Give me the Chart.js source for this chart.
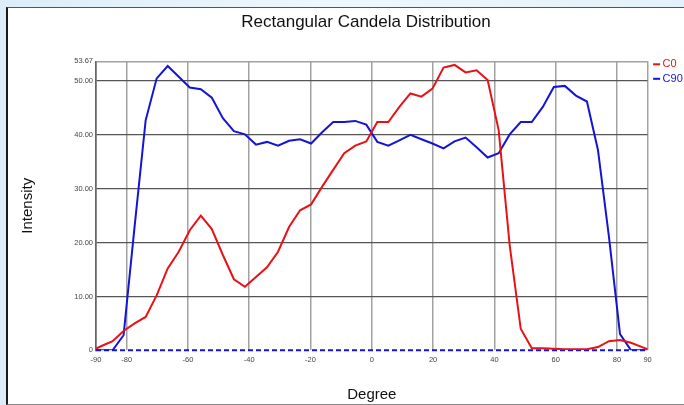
<!DOCTYPE html>
<html>
<head>
<meta charset="utf-8">
<script src="https://cdn.jsdelivr.net/npm/chart.js@4.4.1/dist/chart.umd.min.js"></script>
<style>
  html, body { margin: 0; padding: 0; }
  body {
    width: 684px; height: 405px; overflow: hidden; position: relative;
    background: linear-gradient(90deg, #dcedf9 0%, #eef7fd 50%, #e3f1fa 100%);
  }
  #panel {
    position: absolute; left: 6px; top: 7px; width: 700px; height: 396px;
    background: #fff;
    border-left: 2px solid #1a1a1a; border-top: 1px solid #555; border-bottom: 1px solid #888;
  }
  #chart { position: absolute; left: 0; top: 0; }
</style>
</head>
<body>
<div id="panel"></div>
<canvas id="chart" width="684" height="405"></canvas>
<script>
// angle (deg) of each sample, ends at -90 / 90
const degrees = [-90, -88.2, -84.6, -81, -77.4, -73.8, -70.2, -66.6, -63, -59.4, -55.8,
  -52.2, -48.6, -45, -41.4, -37.8, -34.2, -30.6, -27, -23.4, -19.8, -16.2, -12.6, -9,
  -5.4, -1.8, 1.8, 5.4, 9, 12.6, 16.2, 19.8, 23.4, 27, 30.6, 34.2, 37.8, 41.4, 45,
  48.6, 52.2, 55.8, 59.4, 63, 66.6, 70.2, 73.8, 77.4, 81, 84.6, 88.2, 90];

const c0 = [0.3, 0.8, 1.7, 3.6, 5.0, 6.2, 10.2, 15.2, 18.3, 22.3, 25.0,
  22.5, 17.7, 13.2, 11.8, 13.6, 15.4, 18.3, 22.9, 26.0, 27.1, 30.4, 33.5, 36.6,
  38.0, 38.8, 42.4, 42.4, 45.2, 47.7, 47.1, 48.6, 52.5, 53.0, 51.6, 52.0, 50.2, 40.9, 19.5,
  4.0, 0.4, 0.4, 0.3, 0.2, 0.2, 0.2, 0.6, 1.7, 1.9, 1.4, 0.6, 0.2];

const c90 = [0, 0, 0, 2.8, 23, 42.7, 50.5, 52.8, 50.8, 48.8, 48.5,
  46.9, 43.1, 40.7, 40.1, 38.2, 38.7, 38.0, 38.9, 39.2, 38.4, 40.5, 42.4, 42.4,
  42.6, 41.9, 38.7, 38.0, 39.0, 40.0, 39.2, 38.4, 37.5, 38.8, 39.5, 37.7, 35.8, 36.6, 40.1,
  42.4, 42.4, 45.2, 48.9, 49.1, 47.3, 46.2, 37.2, 21, 3, 0, 0, 0];

const xTicks = [-90, -80, -60, -40, -20, 0, 20, 40, 60, 80, 90];
const yTicks = [0, 10, 20, 30, 40, 50, 53.67];

const RED = "rgb(232,18,22)";
const BLUE = "rgb(20,20,215)";
const FONT = '"Liberation Sans", Arial, sans-serif';

const toPoints = (vals) => degrees.map((d, i) => ({ x: d, y: vals[i] }));

// title + small legend at the right of the plot
const headerPlugin = {
  id: "header",
  afterDraw(chart) {
    const { ctx, chartArea } = chart;
    ctx.save();
    ctx.font = "17px " + FONT;
    ctx.fillStyle = "#111";
    ctx.textAlign = "center";
    ctx.textBaseline = "middle";
    ctx.fillText("Rectangular Candela Distribution", 366, 22);

    ctx.font = "11px " + FONT;
    ctx.textAlign = "left";
    chart.data.datasets.slice(0, 2).forEach((ds, i) => {
      const y = chartArea.top + 3 + i * 14.5;
      const x = chartArea.right + 5.5;
      ctx.strokeStyle = ds.borderColor;
      ctx.lineWidth = 2;
      ctx.beginPath();
      ctx.moveTo(x, y);
      ctx.lineTo(x + 7, y);
      ctx.stroke();
      ctx.fillStyle = ds.borderColor;
      ctx.fillText(ds.label, x + 9.5, y);
    });
    ctx.restore();
  },
};

const config = {
  type: "line",
  data: {
    datasets: [
      { label: "C0", data: toPoints(c0), borderColor: RED, borderWidth: 2 },
      { label: "C90", data: toPoints(c90), borderColor: BLUE, borderWidth: 2 },
      {
        // dashed zero line along the bottom
        label: "",
        data: [{ x: xTicks[0], y: 0 }, { x: xTicks[xTicks.length - 1], y: 0 }],
        borderColor: BLUE,
        borderWidth: 2,
        borderDash: [5, 3],
        clip: false,
      },
    ],
  },
  options: {
    responsive: false,
    animation: false,
    devicePixelRatio: 1,
    layout: { padding: { left: 10, top: 61.3, right: 36.4, bottom: 0 } },
    elements: { point: { radius: 0 }, line: { tension: 0 } },
    plugins: { legend: { display: false }, title: { display: false }, tooltip: { enabled: false } },
    scales: {
      x: {
        type: "linear",
        min: -90,
        max: 90,
        afterBuildTicks: (axis) => { axis.ticks = xTicks.map((v) => ({ value: v })); },
        afterFit: (axis) => { axis.height = 54.7; },
        border: { display: false },
        grid: {
          drawTicks: false,
          lineWidth: 1.5,
          color: (c) => (c.tick && c.tick.value === -90 ? "#666" : "#a2a2a2"),
        },
        ticks: {
          autoSkip: false,
          maxRotation: 0,
          padding: 5,
          color: "#444",
          font: { family: FONT, size: 7.5 },
        },
        title: {
          display: true,
          text: "Degree",
          color: "#111",
          font: { family: FONT, size: 15 },
          padding: { top: 0, bottom: 1 },
        },
      },
      y: {
        min: 0,
        max: 53.67,
        afterBuildTicks: (axis) => { axis.ticks = yTicks.map((v) => ({ value: v })); },
        afterFit: (axis) => { axis.width = 86; },
        border: { display: true, color: "#666", width: 1.5 },
        grid: {
          drawTicks: false,
          lineWidth: (c) => (c.tick && c.tick.value === 53.67 ? 1.5 : 1.2),
          color: (c) => {
            if (!c.tick) return "#555";
            if (c.tick.value === 0) return "rgba(0,0,0,0)";
            if (c.tick.value === 53.67) return "#a2a2a2";
            return "#555";
          },
        },
        ticks: {
          padding: 3,
          color: "#444",
          font: { family: FONT, size: 7.5 },
          callback: (v) => (v === 0 ? "0" : Number(v).toFixed(2)),
        },
        title: {
          display: true,
          text: "Intensity",
          color: "#111",
          font: { family: FONT, size: 15 },
          padding: { top: 8.5, bottom: 0 },
        },
      },
    },
  },
  plugins: [headerPlugin],
};

new Chart(document.getElementById("chart"), config);
</script>
</body>
</html>
